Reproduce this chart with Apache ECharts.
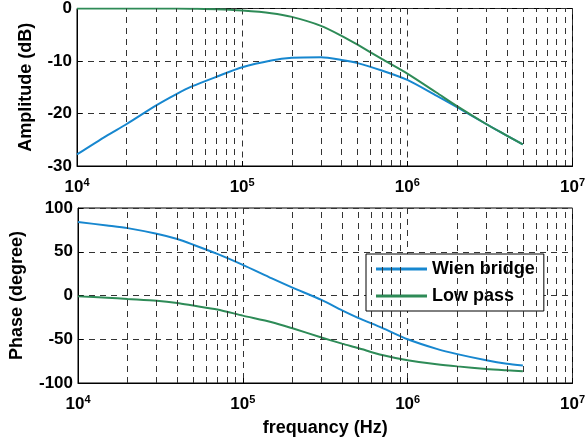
<!DOCTYPE html>
<html lang="en">
  <head>
    <meta charset="UTF-8" />
    <title>wien bridge bode</title>
    <style>
      html, body { margin: 0; padding: 0; background: #fff; }
      #main { width: 588px; height: 444px; }
    </style>
  </head>
  <body>
    <div id="main"></div>
    <script src="https://cdn.jsdelivr.net/npm/echarts@6/dist/echarts.min.js"></script>
    <script>
      const myChart = echarts.init(document.getElementById('main'))

      // frequencies (Hz)
      var freq = [1e4, 1.5e4, 2e4, 3e4, 4e4, 5e4, 7e4, 1e5, 1.5e5, 2e5, 3e5, 4e5, 5e5, 7e5, 1e6, 1.5e6, 2e6, 3e6, 4e6, 5e6]
      // amplitude (dB)
      var ampWien = [-27.8, -24.3, -22, -18.5, -16.3, -14.8, -13, -11.2, -9.9, -9.4, -9.3, -9.8, -10.4, -11.8, -13.6, -16.6, -18.8, -22, -24.2, -25.9]
      var ampLow = [0, 0, 0, 0, 0, -0.05, -0.15, -0.4, -0.9, -1.6, -3.3, -5.2, -6.9, -9.6, -12.4, -16, -18.6, -22, -24.2, -25.9]
      // phase (degree)
      var phWien = [84, 80, 77, 70.5, 64.5, 58, 47.5, 35, 19.5, 9, -5, -17, -25.5, -37, -50, -61, -67, -74, -78, -80]
      var phLow = [-1, -2.5, -4, -6, -8.5, -11.5, -16, -23, -30.5, -37.5, -48, -55, -60, -68, -74, -78.5, -81, -84, -85.5, -86.5]
      // y ticks
      var ampTicks = { min: -30, max: 0, interval: 10 }
      var phTicks = { min: -100, max: 100, interval: 50 }

      var FONT = 'Liberation Sans, Arial, Helvetica, sans-serif'
      var blue = '#1787cf'
      var green = '#2e8b57'
      var gridColor = '#333'

      function pairs(xs, ys) {
        var out = []
        for (let i = 0; i < xs.length; i++) out.push([xs[i], ys[i]])
        return out
      }

      // minor grid lines 2..9 in every decade
      var minorLines = []
      for (let d = 1e4; d < 1e7; d *= 10) {
        for (let m = 2; m <= 9; m++) minorLines.push({ xAxis: d * m })
      }

      function xAxisFor(idx, name) {
        return {
          type: 'log',
          logBase: 10,
          gridIndex: idx,
          min: 1e4,
          max: 1e7,
          name: name,
          nameLocation: 'middle',
          nameGap: 36,
          nameTextStyle: { color: '#000', fontFamily: FONT, fontWeight: 'bold', fontSize: 18 },
          axisLine: { onZero: false, lineStyle: { color: '#000', width: 1 } },
          axisTick: { inside: true, length: 5, lineStyle: { color: '#000' } },
          splitLine: { show: true, lineStyle: { color: gridColor, type: [6, 5], width: 1 } },
          axisLabel: {
            margin: 11,
            formatter: function (v) {
              return '{b|10}{s|' + Math.round(Math.log10(v)) + '}'
            },
            rich: {
              b: { fontFamily: FONT, fontWeight: 'bold', fontSize: 17, color: '#000' },
              s: { fontFamily: FONT, fontWeight: 'bold', fontSize: 11, color: '#000', padding: [0, 0, 10, 0] }
            }
          }
        }
      }

      function yAxisFor(idx, name, ticks, gap) {
        return {
          type: 'value',
          gridIndex: idx,
          min: ticks.min,
          max: ticks.max,
          interval: ticks.interval,
          name: name,
          nameLocation: 'middle',
          nameGap: gap,
          nameTextStyle: { color: '#000', fontFamily: FONT, fontWeight: 'bold', fontSize: 18 },
          axisLine: { show: true, onZero: false, lineStyle: { color: '#000' } },
          axisTick: { inside: true, length: 5, lineStyle: { color: '#000' } },
          splitLine: { show: true, lineStyle: { color: gridColor, type: [6, 5], width: 1 } },
          axisLabel: { color: '#000', fontFamily: FONT, fontWeight: 'bold', fontSize: 17, margin: 5 }
        }
      }

      function minorMark() {
        return {
          silent: true,
          symbol: 'none',
          label: { show: false },
          lineStyle: { color: gridColor, type: [6, 5], width: 1 },
          data: minorLines
        }
      }

      function curve(name, idx, ys, color, withGrid) {
        var s = {
          name: name,
          type: 'line',
          xAxisIndex: idx,
          yAxisIndex: idx,
          data: pairs(freq, ys),
          smooth: 0.25,
          symbol: 'none',
          lineStyle: { color: color, width: 2 },
          itemStyle: { color: color },
          z: 3
        }
        if (withGrid) s.markLine = minorMark()
        return s
      }

      option = {
        backgroundColor: '#fff',
        animation: false,
        grid: [
          { left: 77, top: 5, width: 498, height: 161, show: true, borderColor: '#000', borderWidth: 1 },
          { left: 77, top: 208, width: 498, height: 175, show: true, borderColor: '#000', borderWidth: 1 }
        ],
        legend: {
          data: ['Wien bridge', 'Low pass'],
          orient: 'vertical',
          left: 366,
          top: 254,
          padding: [5, 9, 5, 10],
          itemGap: 7,
          itemWidth: 51,
          itemHeight: 3,
          icon: 'rect',
          backgroundColor: '#fff',
          borderColor: '#000',
          borderWidth: 1,
          borderRadius: 0,
          textStyle: { color: '#000', fontFamily: FONT, fontWeight: 'bold', fontSize: 18, lineHeight: 20 }
        },
        xAxis: [xAxisFor(0, ''), xAxisFor(1, 'frequancy (Hz)')],
        yAxis: [
          yAxisFor(0, 'Amplitude (dB)', ampTicks, 42),
          yAxisFor(1, 'Phase (degree)', phTicks, 52)
        ],
        series: [
          curve('Wien bridge', 0, ampWien, blue, true),
          curve('Low pass', 0, ampLow, green, false),
          curve('Wien bridge', 1, phWien, blue, true),
          curve('Low pass', 1, phLow, green, false)
        ]
      }

      myChart.setOption(option)
    </script>
  </body>
</html>
